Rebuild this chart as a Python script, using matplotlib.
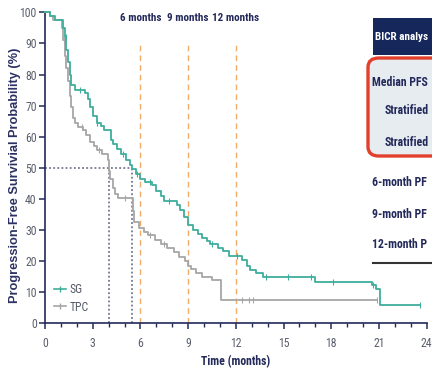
import numpy as np
import matplotlib
matplotlib.use("Agg")
import matplotlib.pyplot as plt
from matplotlib import font_manager as fm
from matplotlib.patches import Rectangle, FancyBboxPatch
from matplotlib.lines import Line2D

# ---------------- data ----------------
sg_times = [0, 0.3, 0.6, 1.15, 1.25, 1.35, 1.45, 1.55, 1.65, 1.9, 2.5, 2.7, 2.8, 3.0, 3.25,
            3.5, 3.7, 4.15, 4.3, 4.5, 4.8, 5.1, 5.35, 5.5, 5.7, 6.0, 6.3, 6.7, 7.0, 7.3,
            7.5, 8.3, 8.5, 8.75, 9.0, 9.3, 9.6, 9.9, 10.2, 10.4, 10.9, 11.2, 11.6, 12.4,
            12.7, 12.9, 13.3, 13.7, 17.0, 20.55, 20.8, 21.05, 23.6]
sg_surv = [100, 98.8, 97.6, 95, 92, 88, 84, 80, 76.5, 75.0, 74.0, 72, 69.5, 66.5, 64.5,
           63.5, 62.0, 59, 57.5, 56, 54.5, 52.5, 51, 49.5, 48, 46.5, 45.5, 44.5, 42.5, 41,
           39.3, 38, 36.5, 34, 31.5, 30, 28.5, 27.5, 26.5, 25.3, 24.3, 23.3, 21.5, 20.2,
           18.5, 17, 16.0, 14.9, 13.3, 12.2, 11.0, 5.8, 5.8]
sg_censor = [1.3, 2.2, 3.3, 4.9, 5.8, 6.6, 7.8, 10.5, 12.1, 13.9, 15.3, 16.7, 18.1, 20.6, 23.6]

tpc_times = [0, 0.3, 0.5, 1.05, 1.12, 1.25, 1.35, 1.45, 1.55, 1.65, 1.75, 1.9, 2.05, 2.4,
             2.6, 2.85, 3.1, 3.3, 3.6, 3.95, 4.05, 4.1, 4.25, 4.4, 4.6, 5.55, 5.62, 5.9,
             6.2, 6.5, 6.9, 7.3, 7.7, 8.1, 8.4, 8.8, 9.0, 9.2, 9.5, 9.9, 10.5, 11.05, 11.1,
             20.86]
tpc_surv = [100, 98.8, 97.6, 95, 91, 86, 82, 78, 73, 69.5, 66, 64.3, 63.2, 62.1,
            60.5, 58.4, 57, 55.7, 54.5, 52.5, 49, 46.5, 43.5, 41.5, 40.1, 36, 32.5, 30.5,
            29.4, 28.3, 26.7, 25.5, 24.3, 23, 21.3, 20, 18.2, 17.3, 16.2, 14.9, 13.8, 9, 7.4,
            7.4]
tpc_censor = [1.2, 2.3, 3.4, 5.0, 6.6, 7.5, 12.37, 12.8, 13.1, 20.86]

median_sg = 5.5
median_tpc = 4.0
landmarks = [6, 9, 12]
landmark_labels = ["6 months", "9 months", "12 months"]

x_ticks = [0, 3, 6, 9, 12, 15, 18, 21, 24]
y_ticks = [0, 10, 20, 30, 40, 50, 60, 70, 80, 90, 100]

table_header = "BICR analys"
table_rows = ["Median PFS", "Stratified", "Stratified", "6-month PF", "9-month PF", "12-month P"]
table_indent = [False, True, True, False, False, False]

# ---------------- fonts ----------------
names = {f.name for f in fm.fontManager.ttflist}
cond = "Liberation Sans"
for cand in ["Liberation Sans Narrow", "Roboto Condensed", "Open Sans Condensed", "Arial Narrow"]:
    if cand in names:
        cond = cand
        break
plt.rcParams['font.family'] = [cond, 'DejaVu Sans']

NAVY = "#23295a"
TEAL = "#3fae9c"
GRAY = "#a6a6a6"
ORANGE = "#f0ab66"
DOT = "#5b6183"

fig = plt.figure(figsize=(4.32, 3.69), dpi=100)
ax = fig.add_axes([45/432, (369-323)/369, 381.6/432, (323-12.4)/369])
ax.set_xlim(0, 24)
ax.set_ylim(0, 100)

# KM curves
ax.step(sg_times, sg_surv, where='post', color=TEAL, lw=1.3, clip_on=False, zorder=4)
ax.step(tpc_times, tpc_surv, where='post', color=GRAY, lw=1.3, clip_on=False, zorder=3)

def step_val(times, surv, t):
    idx = np.searchsorted(times, t, side='right') - 1
    return np.asarray(surv)[idx]

ax.plot(sg_censor, step_val(sg_times, sg_surv, sg_censor), ls='none', marker='|',
        ms=5, mew=0.8, color=TEAL, clip_on=False, zorder=4)
ax.plot(tpc_censor, step_val(tpc_times, tpc_surv, tpc_censor), ls='none', marker='|',
        ms=5, mew=0.8, color=GRAY, clip_on=False, zorder=3)

# median lines
ax.plot([0, median_sg], [50, 50], ls=(0, (1.2, 1.5)), color=DOT, lw=1.1, zorder=2)
ax.plot([median_tpc, median_tpc], [0, 50], ls=(0, (1.2, 1.5)), color=DOT, lw=1.1, zorder=2)
ax.plot([median_sg, median_sg], [0, 50], ls=(0, (1.2, 1.5)), color=DOT, lw=1.1, zorder=2)

# landmark lines
for t, lab in zip(landmarks, landmark_labels):
    ax.plot([t, t], [0, 90.5], ls=(0, (4, 3)), color=ORANGE, lw=1.0, zorder=1)
    ax.text(t, 98.3, lab, ha='center', va='center', fontsize=8, fontweight='bold', color=NAVY)

# axes styling
for s in ['top', 'right']:
    ax.spines[s].set_visible(False)
for s in ['left', 'bottom']:
    ax.spines[s].set_color(NAVY)
    ax.spines[s].set_linewidth(1.2)
ax.set_xticks(x_ticks)
ax.set_xticks(np.arange(0, 25, 1), minor=True)
ax.set_yticks(y_ticks)
ax.tick_params(axis='both', which='major', colors=NAVY, labelcolor="#5a5f6b", labelsize=8.5,
               length=4, width=1.1, pad=2)
ax.tick_params(axis='x', which='minor', colors=NAVY, length=3, width=1.0)
ax.tick_params(axis='x', which='major', pad=6)

ax.set_ylabel("Progression-Free Survivial Probability (%)", fontsize=9.2, fontweight='bold',
              color="#2b3163", family=['Liberation Sans', 'DejaVu Sans'])
ax.yaxis.set_label_coords(-0.064, 0.475)
ax.set_xlabel("Time (months)", fontsize=8.5, fontweight='bold', color=NAVY, labelpad=4)

# legend
handles = [Line2D([0], [0], color=TEAL, lw=1.2, marker='|', ms=5),
           Line2D([0], [0], color=GRAY, lw=1.2, marker='|', ms=5)]
ax.legend(handles, ["SG", "TPC"], loc='lower left', bbox_to_anchor=(0.0, 0.0),
          frameon=False, fontsize=8.5, handlelength=1.0, handletextpad=0.3,
          labelspacing=0.35, borderpad=0.3, labelcolor="#555a66")

# table (partially visible on right side)
def fx(px):
    return px / 432
def fy(py):
    return (369 - py) / 369

fig.patches.append(FancyBboxPatch((fx(368), fy(156)), fx(470) - fx(368), fy(58) - fy(156),
                                  boxstyle="round,pad=0,rounding_size=0.025",
                                  transform=fig.transFigure, facecolor="#e7ecf1",
                                  edgecolor="#e2402c", lw=2.4, zorder=5))
fig.patches.append(Rectangle((fx(373), fy(55)), fx(440) - fx(373), fy(18) - fy(55),
                             transform=fig.transFigure, facecolor="#15275b",
                             edgecolor='none', zorder=6))
fig.text(fx(375), fy(36.5), table_header, color='white', fontsize=8, fontweight='bold',
         va='center', ha='left', zorder=7)
row_y = [82, 111, 143, 182, 214, 245]
for txt, yy, ind in zip(table_rows, row_y, table_indent):
    fig.text(fx(385 if ind else 372.5), fy(yy), txt, color=NAVY, fontsize=8.5, fontweight='bold',
             va='center', ha='left', zorder=7)
fig.add_artist(Line2D([fx(373), fx(432)], [fy(263), fy(263)], transform=fig.transFigure,
                      color="#333333", lw=1.5, zorder=7))

fig.savefig("out.png", dpi=100)
